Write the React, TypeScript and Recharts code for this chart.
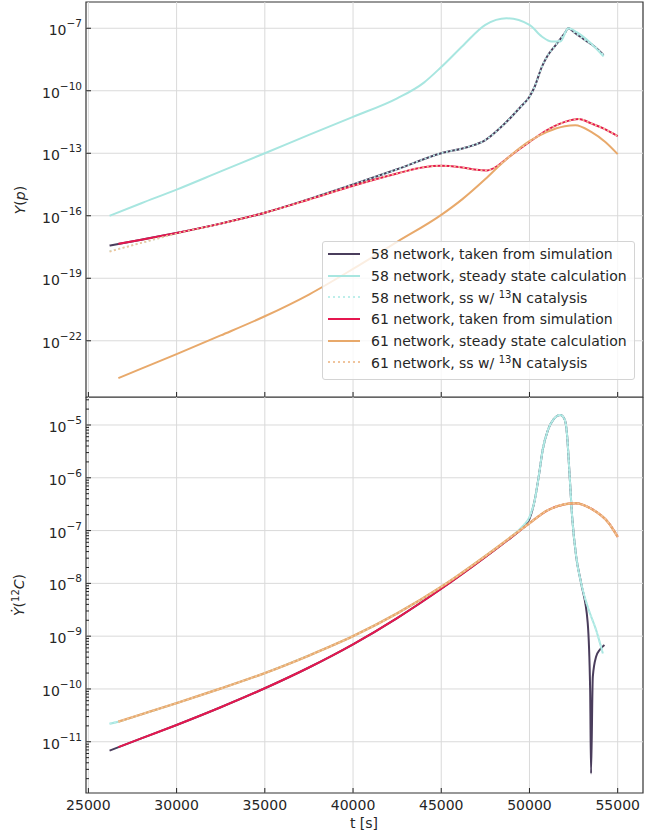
import { LineChart, Line, XAxis, YAxis, ReferenceLine, ReferenceArea } from "recharts";

const FONT = "'DejaVu Sans', Verdana, sans-serif";
const INK = "#262626";
const GRID = "#dadada";

// series colours
const C58_SIM = "#4a3d5c";
const C58_SS = "#a8e6e0";
const C58_CAT = "#bdeeea";
const C61_SIM = "#e5174f";
const C61_SS = "#e8a96b";
const C61_CAT = "#f0c49c";

// shared time axis
const T_MIN = 24865;
const T_MAX = 56435;
const T_TICKS = [25000, 30000, 35000, 40000, 45000, 50000, 55000];

// ---------- Y(p) panel ----------
const TOP_Y_DOMAIN = [2.0e-25, 1.82e-6];
const TOP_Y_TICKS = [1e-22, 1e-19, 1e-16, 1e-13, 1e-10, 1e-7];

const tP58Sim = [26200, 28000, 30000, 32500, 35000, 37500, 40000, 42500, 45000, 46500, 47500, 48500, 49500, 50000, 50300, 50700, 51000, 51500, 52000, 52200, 52600, 53200, 53700, 54200];
const yP58Sim = [3.7e-18, 7.1e-18, 1.5e-17, 4.2e-17, 1.4e-16, 6.3e-16, 3.16e-15, 1.7e-14, 1.0e-13, 2.0e-13, 4.3e-13, 2.2e-12, 1.7e-11, 5.1e-11, 1.6e-10, 1.4e-9, 4.4e-9, 1.6e-8, 5.8e-8, 1.0e-7, 5.8e-8, 2.5e-8, 1.3e-8, 5.2e-9];
const yP58Cat = [2.0e-18, 5.0e-18, 1.4e-17, 4.2e-17, 1.4e-16, 6.3e-16, 3.16e-15, 1.7e-14, 1.0e-13, 2.0e-13, 4.3e-13, 2.2e-12, 1.7e-11, 5.1e-11, 1.6e-10, 1.4e-9, 4.4e-9, 1.6e-8, 5.8e-8, 1.0e-7, 5.8e-8, 2.5e-8, 1.3e-8, 5.2e-9];

const tP58Ss = [26200, 28000, 30000, 32500, 35000, 37500, 40000, 42500, 44000, 45000, 46240, 47500, 48700, 50000, 50700, 51250, 51750, 52200, 52700, 53400, 54200];
const yP58Ss = [1.0e-16, 4.0e-16, 1.8e-15, 1.35e-14, 1.0e-13, 7.6e-13, 5.6e-12, 4.3e-11, 2.4e-10, 1.38e-9, 1.5e-8, 1.45e-7, 3.0e-7, 1.45e-7, 4.0e-8, 2.3e-8, 2.3e-8, 1.0e-7, 6.3e-8, 2.2e-8, 4.5e-9];

const tP61Sim = [26700, 28000, 30000, 32500, 35000, 37500, 40000, 42500, 44000, 45000, 46000, 47000, 47600, 48200, 48800, 50000, 51000, 52000, 52800, 53500, 54300, 55000];
const yP61Sim = [4.5e-18, 7.1e-18, 1.5e-17, 4.2e-17, 1.4e-16, 6.0e-16, 2.75e-15, 1.07e-14, 2.14e-14, 2.5e-14, 2.2e-14, 1.6e-14, 1.5e-14, 2.5e-14, 6.3e-14, 3.5e-13, 1.3e-12, 3.2e-12, 4.4e-12, 2.7e-12, 1.4e-12, 6.6e-13];

const tP61Cat = [26200, 28000, 30000, 32500, 35000, 37500, 40000, 42500, 44000, 45000, 46000, 47000, 47600, 48200, 48800, 50000, 51000, 52000, 52800, 53500, 54300, 55000];
const yP61Cat = [1.9e-18, 5.0e-18, 1.4e-17, 4.2e-17, 1.4e-16, 6.0e-16, 2.75e-15, 1.07e-14, 2.14e-14, 2.5e-14, 2.2e-14, 1.6e-14, 1.5e-14, 2.5e-14, 6.3e-14, 3.5e-13, 1.3e-12, 3.2e-12, 4.4e-12, 2.7e-12, 1.4e-12, 6.6e-13];

const tP61Ss = [26700, 28000, 30000, 32500, 35000, 37500, 40000, 42500, 45000, 46200, 47500, 48500, 50000, 51000, 52000, 52600, 53500, 54300, 55000];
const yP61Ss = [1.6e-24, 4.6e-24, 2.3e-23, 1.8e-22, 1.5e-21, 1.66e-20, 2.8e-19, 5.6e-18, 1.1e-16, 6.3e-16, 5.8e-15, 3.7e-14, 3.8e-13, 1.07e-12, 2.0e-12, 2.24e-12, 1.07e-12, 3.5e-13, 9.1e-14];

// ---------- dY(12C)/dt panel ----------
const BOT_Y_DOMAIN = [1.07e-12, 3.39e-5];
const BOT_Y_EXPONENTS = [-11, -10, -9, -8, -7, -6, -5];

const tC58Sim = [26200, 28000, 30000, 32500, 35000, 37500, 40000, 42500, 45000, 47500, 49000, 49600, 50000, 50300, 50550, 50750, 51050, 51350, 51750, 52000, 52120, 52270, 52420, 52650, 52930, 53300, 53440, 53490, 53590, 53780, 54000, 54250];
const yC58Sim = [6.8e-12, 1.16e-11, 2.08e-11, 4.5e-11, 1.03e-10, 2.55e-10, 7.0e-10, 2.2e-9, 7.9e-9, 3.16e-8, 7.6e-8, 1.12e-7, 1.66e-7, 3.8e-7, 1.2e-6, 3.4e-6, 8.1e-6, 1.26e-5, 1.55e-5, 1.26e-5, 7.1e-6, 1.2e-6, 1.8e-7, 3.16e-8, 1.0e-8, 1.8e-9, 9.3e-11, 2.5e-12, 1.7e-10, 4.1e-10, 5.6e-10, 6.8e-10];

const tC58Ss = [26200, 26700, 28000, 30000, 32500, 35000, 37500, 40000, 42500, 45000, 47500, 49000, 49600, 50000, 50300, 50550, 50750, 51050, 51350, 51750, 52000, 52120, 52270, 52420, 52650, 52930, 53300, 53780, 54160];
const yC58Ss = [2.2e-11, 2.4e-11, 3.3e-11, 5.4e-11, 1.02e-10, 2.0e-10, 4.3e-10, 1.0e-9, 2.7e-9, 8.6e-9, 3.3e-8, 7.8e-8, 1.2e-7, 1.8e-7, 3.8e-7, 1.2e-6, 3.4e-6, 8.1e-6, 1.26e-5, 1.55e-5, 1.26e-5, 7.1e-6, 1.2e-6, 1.8e-7, 3.2e-8, 1.0e-8, 3.6e-9, 1.3e-9, 4.7e-10];

const tC61 = [26700, 28000, 30000, 32500, 35000, 37500, 40000, 42500, 45000, 47500, 49000, 50000, 51000, 52000, 52600, 53500, 54500, 55000];
const yC61Sim = [7.9e-12, 1.16e-11, 2.08e-11, 4.5e-11, 1.03e-10, 2.55e-10, 7.0e-10, 2.2e-9, 7.9e-9, 3.16e-8, 7.6e-8, 1.38e-7, 2.4e-7, 3.16e-7, 3.3e-7, 2.6e-7, 1.38e-7, 7.6e-8];
const yC61Ss = [2.4e-11, 3.3e-11, 5.4e-11, 1.02e-10, 2.0e-10, 4.3e-10, 1.0e-9, 2.7e-9, 8.6e-9, 3.3e-8, 7.8e-8, 1.38e-7, 2.4e-7, 3.16e-7, 3.3e-7, 2.6e-7, 1.38e-7, 7.6e-8];

// layout (px)
const W = 665;
const PLOT_LEFT = 86;
const RIGHT_GAP = 22;
const TOP_H = 407; // top chart svg, x-axis strip of 10px below the frame
const TOP_PLOT_BOTTOM = 397;
const BOT_TOP = 397;
const BOT_H = 442;
const BOT_PLOT_BOTTOM = 396;

const rows = (ts: number[], ys: number[]) => ts.map((t, i) => ({ t, y: ys[i] }));

const decadeTicks = (exps: number[]) => exps.map((e) => Number(`1e${e}`));
const minorTicks = (exps: number[]) => {
  const out: number[] = [];
  [exps[0] - 1, ...exps].forEach((e) => {
    for (let m = 2; m <= 9; m++) {
      const v = m * Number(`1e${e}`);
      if (v > BOT_Y_DOMAIN[0] && v < BOT_Y_DOMAIN[1]) out.push(v);
    }
  });
  return out;
};

const renderYTick = (props: any) => {
  const { y, payload } = props;
  const lg = Math.log10(payload.value);
  const e = Math.round(lg);
  const major = Math.abs(lg - e) < 1e-6;
  return (
    <g>
      <line x1={PLOT_LEFT} x2={PLOT_LEFT + (major ? 5 : 3)} y1={y} y2={y} stroke="#222" strokeWidth={1} />
      {major && (
        <text x={PLOT_LEFT - 4} y={y + 7} textAnchor="end" fontFamily={FONT} fontSize={14} fill={INK}>
          <tspan>10</tspan>
          <tspan dy={-8} fontSize={10.5}>{`\u2212${-e}`}</tspan>
        </text>
      )}
    </g>
  );
};

const makeXTick = (plotBottom: number, withLabel: boolean) => (props: any) => {
  const { x, payload } = props;
  return (
    <g>
      <line x1={x} x2={x} y1={plotBottom} y2={plotBottom - 5} stroke="#222" strokeWidth={1} />
      {withLabel && (
        <text x={x} y={plotBottom + 17} textAnchor="middle" fontFamily={FONT} fontSize={14} fill={INK}>
          {payload.value}
        </text>
      )}
    </g>
  );
};

const axisTitle = (cx: number, cy: number, parts: any) => (
  <text x={cx} y={cy} textAnchor="middle" fontFamily={FONT} fontSize={14} fill={INK} transform={`rotate(-90, ${cx}, ${cy})`}>
    {parts}
  </text>
);

const lineProps = {
  type: "monotone" as const,
  dataKey: "y",
  dot: false,
  activeDot: false,
  isAnimationActive: false,
};

const legendItems = [
  { net: "58", kind: "sim", color: C58_SIM, dotted: false },
  { net: "58", kind: "ss", color: C58_SS, dotted: false },
  { net: "58", kind: "cat", color: C58_CAT, dotted: true },
  { net: "61", kind: "sim", color: C61_SIM, dotted: false },
  { net: "61", kind: "ss", color: C61_SS, dotted: false },
  { net: "61", kind: "cat", color: C61_CAT, dotted: true },
];

function LegendBox() {
  return (
    <div
      style={{
        position: "absolute",
        left: 322,
        top: 241,
        width: 313,
        height: 139,
        boxSizing: "border-box",
        background: "rgba(255,255,255,0.8)",
        border: "1px solid #d4d4d4",
        borderRadius: 3,
        padding: "1px 0 0 5px",
        fontFamily: FONT,
        fontSize: 14,
        color: INK,
      }}
    >
      {legendItems.map((it) => (
        <div key={it.net + it.kind} style={{ display: "flex", alignItems: "center", height: 21.7, whiteSpace: "nowrap" }}>
          <svg width={32} height={10} style={{ marginRight: 11, flexShrink: 0 }}>
            <line x1={0} x2={32} y1={5} y2={5} stroke={it.color} strokeWidth={2} strokeDasharray={it.dotted ? "2 3" : undefined} />
          </svg>
          {it.kind === "sim" && <span>{it.net} network, taken from simulation</span>}
          {it.kind === "ss" && <span>{it.net} network, steady state calculation</span>}
          {it.kind === "cat" && (
            <span>
              {it.net} network, ss w/ <sup style={{ fontSize: 10, verticalAlign: 5 }}>13</sup>N catalysis
            </span>
          )}
        </div>
      ))}
    </div>
  );
}

export default function App() {
  const botMajors = decadeTicks(BOT_Y_EXPONENTS);
  const botTicks = [...minorTicks(BOT_Y_EXPONENTS), ...botMajors].sort((a, b) => a - b);

  return (
    <div style={{ position: "absolute", left: 0, top: 0, width: W, height: 839, background: "#fff" }}>
      {/* upper panel: Y(p) */}
      <div style={{ position: "absolute", left: 0, top: 0 }}>
        <LineChart width={W} height={TOP_H} margin={{ top: 2, right: RIGHT_GAP, bottom: 0, left: 0 }}>
          <XAxis
            dataKey="t"
            type="number"
            domain={[T_MIN, T_MAX]}
            ticks={T_TICKS}
            interval={0}
            allowDataOverflow
            height={TOP_H - TOP_PLOT_BOTTOM}
            axisLine={false}
            tickLine={false}
            tick={makeXTick(TOP_PLOT_BOTTOM, false)}
          />
          <YAxis
            scale="log"
            domain={TOP_Y_DOMAIN}
            ticks={TOP_Y_TICKS}
            interval={0}
            allowDataOverflow
            width={PLOT_LEFT}
            axisLine={false}
            tickLine={false}
            tick={renderYTick}
            label={{
              content: () =>
                axisTitle(25, 200, [
                  <tspan key="a" fontStyle="italic">Y</tspan>,
                  <tspan key="b">(</tspan>,
                  <tspan key="c" fontStyle="italic">p</tspan>,
                  <tspan key="d">)</tspan>,
                ]),
            }}
          />
          {T_TICKS.map((t) => (
            <ReferenceLine key={`v${t}`} x={t} stroke={GRID} strokeWidth={1} />
          ))}
          {TOP_Y_TICKS.map((v) => (
            <ReferenceLine key={`h${v}`} y={v} stroke={GRID} strokeWidth={1} />
          ))}
          <Line {...lineProps} data={rows(tP58Sim, yP58Sim)} stroke={C58_SIM} strokeWidth={2} />
          <Line {...lineProps} data={rows(tP58Ss, yP58Ss)} stroke={C58_SS} strokeWidth={2} />
          <Line {...lineProps} data={rows(tP58Sim, yP58Cat)} stroke={C58_CAT} strokeWidth={1.8} strokeDasharray="2 2.5" />
          <Line {...lineProps} data={rows(tP61Sim, yP61Sim)} stroke={C61_SIM} strokeWidth={2} />
          <Line {...lineProps} data={rows(tP61Ss, yP61Ss)} stroke={C61_SS} strokeWidth={2} />
          <Line {...lineProps} data={rows(tP61Cat, yP61Cat)} stroke={C61_CAT} strokeWidth={1.8} strokeDasharray="2 2.5" />
          <ReferenceArea x1={T_MIN} x2={T_MAX} y1={TOP_Y_DOMAIN[0]} y2={TOP_Y_DOMAIN[1]} fill="none" stroke="#333" strokeWidth={1.2} ifOverflow="visible" />
        </LineChart>
      </div>

      {/* lower panel: rate of 12C */}
      <div style={{ position: "absolute", left: 0, top: BOT_TOP }}>
        <LineChart width={W} height={BOT_H} margin={{ top: 0, right: RIGHT_GAP, bottom: 0, left: 0 }}>
          <XAxis
            dataKey="t"
            type="number"
            domain={[T_MIN, T_MAX]}
            ticks={T_TICKS}
            interval={0}
            allowDataOverflow
            height={BOT_H - BOT_PLOT_BOTTOM}
            axisLine={false}
            tickLine={false}
            tick={makeXTick(BOT_PLOT_BOTTOM, true)}
            label={{
              content: () => (
                <text x={364} y={431} textAnchor="middle" fontFamily={FONT} fontSize={14} fill={INK}>
                  t [s]
                </text>
              ),
            }}
          />
          <YAxis
            scale="log"
            domain={BOT_Y_DOMAIN}
            ticks={botTicks}
            interval={0}
            allowDataOverflow
            width={PLOT_LEFT}
            axisLine={false}
            tickLine={false}
            tick={renderYTick}
            label={{
              content: () =>
                axisTitle(24, 198, [
                  <tspan key="a" fontStyle="italic">{"\u1E8E"}</tspan>,
                  <tspan key="b">(</tspan>,
                  <tspan key="c" dy={-5} fontSize={10}>12</tspan>,
                  <tspan key="d" dy={5} fontStyle="italic">C</tspan>,
                  <tspan key="e">)</tspan>,
                ]),
            }}
          />
          {T_TICKS.map((t) => (
            <ReferenceLine key={`v${t}`} x={t} stroke={GRID} strokeWidth={1} />
          ))}
          {botMajors.map((v) => (
            <ReferenceLine key={`h${v}`} y={v} stroke={GRID} strokeWidth={1} />
          ))}
          <Line {...lineProps} data={rows(tC58Sim, yC58Sim)} stroke={C58_SIM} strokeWidth={2} />
          <Line {...lineProps} data={rows(tC58Ss, yC58Ss)} stroke={C58_SS} strokeWidth={2} />
          <Line {...lineProps} data={rows(tC58Ss, yC58Ss)} stroke={C58_CAT} strokeWidth={1.8} strokeDasharray="2 2.5" />
          <Line {...lineProps} data={rows(tC61, yC61Sim)} stroke={C61_SIM} strokeWidth={2} />
          <Line {...lineProps} data={rows(tC61, yC61Ss)} stroke={C61_SS} strokeWidth={2.4} />
          <Line {...lineProps} data={rows(tC61, yC61Ss)} stroke={C61_CAT} strokeWidth={1.8} strokeDasharray="2 2.5" />
          <ReferenceArea x1={T_MIN} x2={T_MAX} y1={BOT_Y_DOMAIN[0]} y2={BOT_Y_DOMAIN[1]} fill="none" stroke="#333" strokeWidth={1.2} ifOverflow="visible" />
        </LineChart>
      </div>

      <LegendBox />
    </div>
  );
}
